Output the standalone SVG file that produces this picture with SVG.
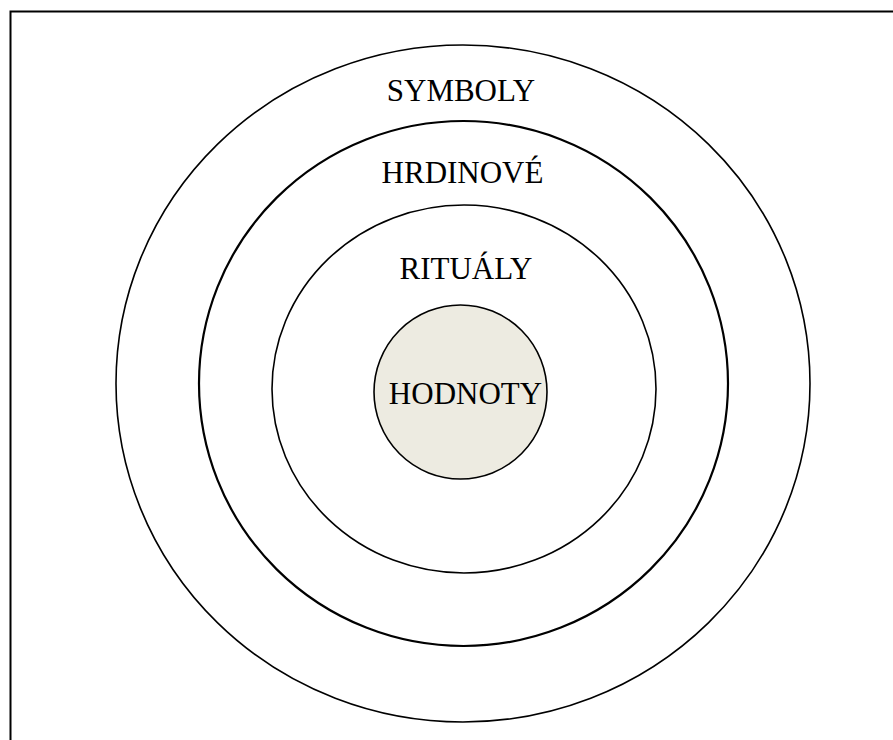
<svg xmlns="http://www.w3.org/2000/svg" width="893" height="740" viewBox="0 0 893 740">
<style>
.ring{fill:none;stroke:#000;stroke-width:1.6}
.thick{stroke-width:2.2}
.lbl{font-family:"Liberation Serif","Times New Roman",serif;font-size:31px;fill:#000;text-anchor:middle}
</style>
<rect x="0" y="0" width="893" height="740" fill="#fff"/>
<rect x="10.5" y="11.5" width="900" height="760" fill="none" stroke="#000" stroke-width="2"/>
<g id="symboly">
<ellipse class="ring" cx="463" cy="383.5" rx="347" ry="338.5"/>
<text class="lbl" x="461" y="101">SYMBOLY</text>
</g>
<g id="hrdinove">
<ellipse class="ring thick" cx="463.5" cy="383.5" rx="264.5" ry="262.5"/>
<text class="lbl" x="462.5" y="183">HRDINOVÉ</text>
</g>
<g id="ritualy">
<ellipse class="ring" cx="464" cy="389" rx="192" ry="184"/>
<text class="lbl" x="466" y="279">RITUÁLY</text>
</g>
<g id="hodnoty">
<ellipse cx="460.5" cy="392" rx="86.5" ry="87" fill="#EDEBE1" stroke="#000" stroke-width="1.6"/>
<text class="lbl" x="465.5" y="404">HODNOTY</text>
</g>
<g id="connectors"/>
</svg>
